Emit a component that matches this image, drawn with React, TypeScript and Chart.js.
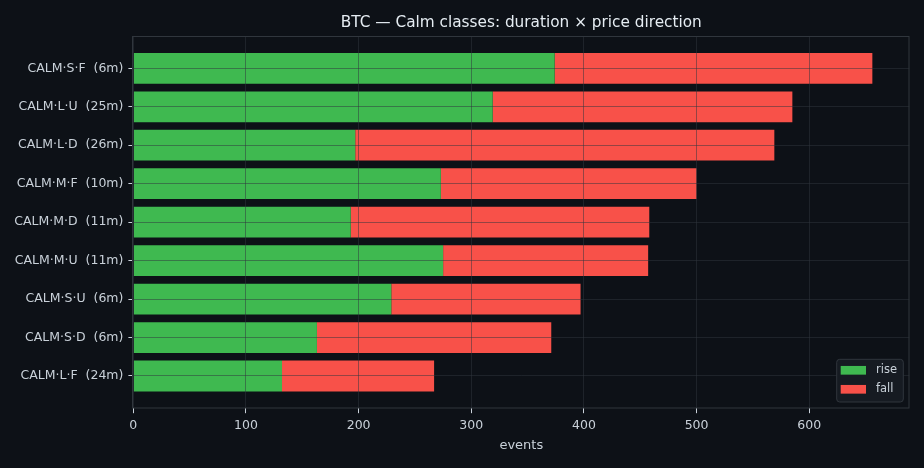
import React, { useEffect, useRef } from 'react';
import { Chart, registerables } from 'chart.js';

Chart.register(...registerables);

// rows from top to bottom
const categories = [
  'CALM·S·F  (6m)',
  'CALM·L·U  (25m)',
  'CALM·L·D  (26m)',
  'CALM·M·F  (10m)',
  'CALM·M·D  (11m)',
  'CALM·M·U  (11m)',
  'CALM·S·U  (6m)',
  'CALM·S·D  (6m)',
  'CALM·L·F  (24m)',
];
const rise = [374, 319, 197, 273, 193, 275, 229, 163, 132];
const fall = [282, 266, 372, 227, 265, 182, 168, 208, 135];
const xTicks = [0, 100, 200, 300, 400, 500, 600];

const TITLE = 'BTC — Calm classes: duration × price direction';
const FONT = '"DejaVu Sans", sans-serif';
const BG = '#0d1117';
const TEXT = '#c9d1d9';
const SPINE = '#30363d';
const GRID = 'rgba(48, 54, 61, 0.5)';

const titlePlugin = {
  id: 'centeredTitle',
  afterDraw(chart: any) {
    const { ctx, chartArea } = chart;
    ctx.save();
    ctx.font = `15.3px ${FONT}`;
    ctx.fillStyle = '#e6edf3';
    ctx.textAlign = 'center';
    ctx.textBaseline = 'alphabetic';
    ctx.fillText(TITLE, (chartArea.left + chartArea.right) / 2, 27);
    ctx.restore();
  },
};

const framePlugin = {
  id: 'frame',
  afterDraw(chart: any) {
    const { ctx, chartArea } = chart;
    ctx.save();
    ctx.strokeStyle = SPINE;
    ctx.lineWidth = 1;
    ctx.strokeRect(
      Math.round(chartArea.left) - 0.5,
      Math.round(chartArea.top) + 0.5,
      Math.round(chartArea.right - chartArea.left) + 0.5,
      Math.round(chartArea.bottom - chartArea.top) - 0.5
    );
    ctx.restore();
  },
};

const legendPlugin = {
  id: 'boxLegend',
  afterDraw(chart: any) {
    const { ctx, chartArea } = chart;
    const sets = chart.data.datasets;
    const w = 66.6;
    const h = 42.7;
    const x = chartArea.right - 6 - w;
    const y = chartArea.bottom - 6.3 - h;
    ctx.save();
    ctx.fillStyle = '#161b22';
    ctx.strokeStyle = SPINE;
    ctx.lineWidth = 1;
    ctx.beginPath();
    ctx.roundRect(x, y, w, h, 3);
    ctx.fill();
    ctx.stroke();
    ctx.font = `11.5px ${FONT}`;
    ctx.textBaseline = 'middle';
    ctx.textAlign = 'left';
    sets.forEach((ds: any, i: number) => {
      const cy = y + 11 + i * 19;
      ctx.fillStyle = ds.backgroundColor;
      ctx.fillRect(x + 4, cy - 4.35, 25.3, 8.7);
      ctx.fillStyle = TEXT;
      ctx.fillText(ds.label, x + 39.3, cy);
    });
    ctx.restore();
  },
};

const App: React.FC = () => {
  const canvasRef = useRef<HTMLCanvasElement>(null);
  const chartRef = useRef<Chart | null>(null);

  useEffect(() => {
    if (!canvasRef.current) return;
    const ctx = canvasRef.current.getContext('2d');
    if (!ctx) return;

    if (chartRef.current) {
      chartRef.current.destroy();
    }

    chartRef.current = new Chart(ctx, {
      type: 'bar',
      data: {
        datasets: [
          {
            label: 'rise',
            data: rise.map((v, i) => ({ x: v, y: i })),
            backgroundColor: '#3fb950',
            borderWidth: 0,
            barPercentage: 0.8,
            categoryPercentage: 1,
          },
          {
            label: 'fall',
            data: fall.map((v, i) => ({ x: v, y: i })),
            backgroundColor: '#f85149',
            borderWidth: 0,
            barPercentage: 0.8,
            categoryPercentage: 1,
          },
        ],
      },
      options: {
        indexAxis: 'y',
        animation: false,
        responsive: false,
        layout: { padding: { top: 36, right: 14.7, left: 0, bottom: 0 } },
        plugins: {
          legend: { display: false },
          title: { display: false },
          tooltip: { enabled: false },
        },
        scales: {
          x: {
            type: 'linear',
            position: 'bottom',
            stacked: true,
            offset: false,
            min: 0,
            max: 688.8,
            afterBuildTicks: (s: any) => {
              s.ticks = xTicks.map((v) => ({ value: v }));
            },
            afterFit: (s: any) => {
              s.height = 59.7;
            },
            ticks: {
              color: TEXT,
              font: { family: FONT, size: 12.5 },
              padding: 5,
              maxRotation: 0,
            },
            grid: {
              color: GRID,
              lineWidth: 1,
              z: 1,
              offset: false,
              tickLength: 4.9,
              tickColor: TEXT,
            },
            border: { display: false },
            title: {
              display: true,
              text: 'events',
              color: TEXT,
              font: { family: FONT, size: 13 },
              padding: { top: 0, bottom: 15 },
            },
          },
          y: {
            type: 'linear',
            position: 'left',
            stacked: true,
            offset: false,
            reverse: true,
            min: -0.84,
            max: 8.84,
            afterBuildTicks: (s: any) => {
              s.ticks = categories.map((_, i) => ({ value: i }));
            },
            afterFit: (s: any) => {
              s.width = 133.3;
            },
            ticks: {
              color: TEXT,
              font: { family: FONT, size: 12.5 },
              padding: 5,
              callback: (v: any) => categories[v as number] ?? '',
            },
            grid: {
              color: GRID,
              lineWidth: 1,
              z: 1,
              offset: false,
              tickLength: 4.9,
              tickColor: TEXT,
            },
            border: { display: false },
          },
        },
      },
      plugins: [titlePlugin, framePlugin, legendPlugin],
    } as any);

    return () => {
      if (chartRef.current) {
        chartRef.current.destroy();
        chartRef.current = null;
      }
    };
  }, []);

  return (
    <div style={{ position: 'fixed', left: 0, top: 0, width: 924, height: 468, background: BG }}>
      <canvas ref={canvasRef} width={924} height={468} style={{ width: 924, height: 468 }} />
    </div>
  );
};

export default App;
